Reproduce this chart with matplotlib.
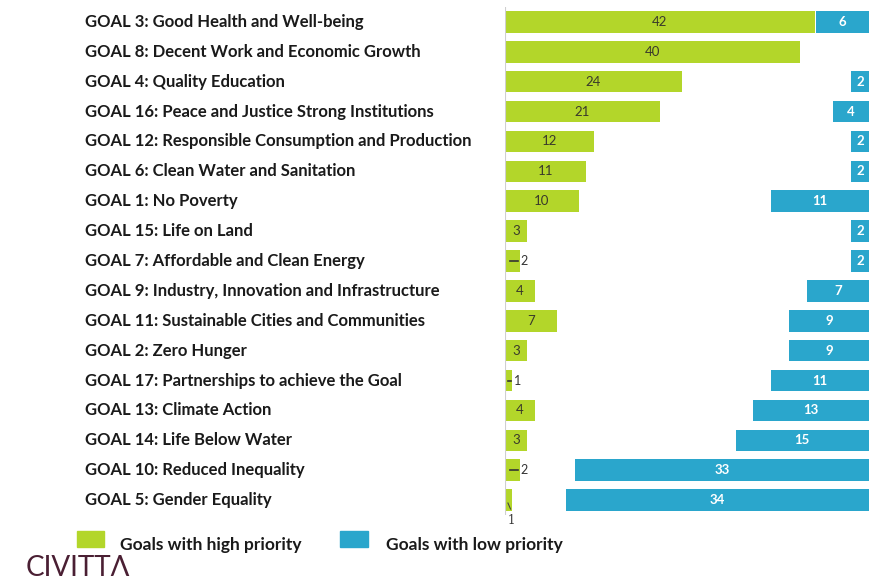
import numpy as np
import matplotlib.pyplot as plt
import matplotlib.transforms as mtransforms
from matplotlib.patches import Rectangle

# data
goals = [
    "GOAL 3: Good Health and Well-being",
    "GOAL 8: Decent Work and Economic Growth",
    "GOAL 4: Quality Education",
    "GOAL 16: Peace and Justice Strong Institutions",
    "GOAL 12: Responsible Consumption and Production",
    "GOAL 6: Clean Water and Sanitation",
    "GOAL 1: No Poverty",
    "GOAL 15: Life on Land",
    "GOAL 7: Affordable and Clean Energy",
    "GOAL 9: Industry, Innovation and Infrastructure",
    "GOAL 11: Sustainable Cities and Communities",
    "GOAL 2: Zero Hunger",
    "GOAL 17: Partnerships to achieve the Goal",
    "GOAL 13: Climate Action",
    "GOAL 14: Life Below Water",
    "GOAL 10: Reduced Inequality",
    "GOAL 5: Gender Equality",
]
high = [42, 40, 24, 21, 12, 11, 10, 3, 2, 4, 7, 3, 1, 4, 3, 2, 1]
low = [6, 0, 2, 4, 2, 2, 11, 2, 2, 7, 9, 9, 11, 13, 15, 33, 34]

GREEN = "#b3d62a"
BLUE = "#2aa6cc"
W, H = 869, 582

plt.rcParams['font.family'] = ['Lato', 'DejaVu Sans']

fig = plt.figure(figsize=(W / 100, H / 100), dpi=100)

# both bar groups share the same pixel area, blue one runs from the right
rect = [505 / W, 1 - 515 / H, (W - 505) / W, 508 / H]
ax_g = fig.add_axes(rect)
ax_b = fig.add_axes(rect)
ax_b.patch.set_visible(False)

y = np.arange(len(goals))
ax_g.barh(y, high, height=0.72, color=GREEN)
ax_b.barh(y, low, height=0.72, color=BLUE)

ax_g.set_xlim(0, 364 / 7.38)
ax_b.set_xlim(364 / 8.9, 0)
for ax in (ax_g, ax_b):
    ax.set_ylim(len(goals) - 0.5, -0.5)
    ax.axis('off')
ax_g.axvline(0, color='#cfcfcf', lw=0.8)

# value labels
for i, v in enumerate(high):
    if i == len(goals) - 1:
        ax_g.plot([v * 0.4, v * 0.75], [i + 0.1, i + 0.3], color='#444444', lw=0.8)
        ax_g.text(v * 0.9, i + 0.68, str(v), ha='center', va='center',
                  fontsize=8.5, color='#333333', family='DejaVu Serif')
    elif v <= 2:
        ax_g.plot([v * 0.35, v * 0.85], [i, i], color='#333333', lw=1.2)
        ax_g.text(v + 0.15, i, str(v), ha='left', va='center',
                  fontsize=9, color='#333333')
    else:
        ax_g.text(v / 2, i, str(v), ha='center', va='center',
                  fontsize=9.5, color='#3a3a2a')
for i, v in enumerate(low):
    if v > 0:
        ax_b.text(v / 2, i, str(v), ha='center', va='center',
                  fontsize=9.5, color='white', fontweight='bold')

# goal names on the left
tr = mtransforms.blended_transform_factory(fig.transFigure, ax_g.transData)
for i, g in enumerate(goals):
    ax_g.text(85 / W, i, g, transform=tr, ha='left', va='center',
              fontsize=12, fontweight='bold', color='#1a1a1a')

# legend
fig.patches.append(Rectangle((77 / W, 1 - 547 / H), 27 / W, 16 / H,
                             transform=fig.transFigure, color=GREEN))
fig.patches.append(Rectangle((340 / W, 1 - 547 / H), 28 / W, 16 / H,
                             transform=fig.transFigure, color=BLUE))
fig.text(120 / W, 1 - 545 / H, "Goals with high priority", ha='left', va='center',
         fontsize=12.5, fontweight='bold', color='#1a1a1a')
fig.text(386 / W, 1 - 545 / H, "Goals with low priority", ha='left', va='center',
         fontsize=12.5, fontweight='bold', color='#1a1a1a')

# logo
fig.text(26 / W, 1 - 568 / H, "CIVITTΛ", ha='left', va='center',
         fontsize=20, color='#4a1f33', fontweight='normal')

fig.savefig('out.png', dpi=100)
